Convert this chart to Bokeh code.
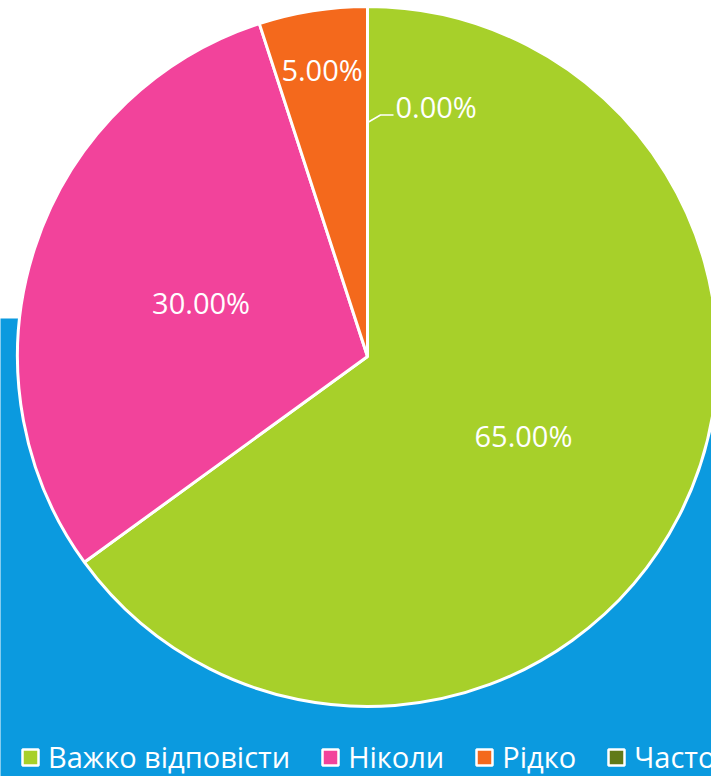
import numpy as np
from bokeh.plotting import figure
from bokeh.models import Range1d, Legend, LegendItem, ColumnDataSource
from bokeh.core.properties import value
from bokeh.embed import file_html
from bokeh.resources import INLINE

categories = ["Важко відповісти", "Ніколи", "Рідко", "Часто"]
shares = [65.0, 30.0, 5.0, 0.0]
colors = ["#A7D02A", "#F2439B", "#F4691C", "#617A18"]

W, H = 711, 776
p = figure(width=W, height=H, output_backend="svg", toolbar_location=None,
           x_axis_location=None, y_axis_location=None, min_border=0,
           x_range=Range1d(0, W), y_range=Range1d(0, H))
p.outline_line_color = None
p.grid.visible = False
p.background_fill_color = "white"
p.border_fill_color = "white"

# blue backdrop
p.quad(left=-20, right=W + 20, bottom=-20, top=H - 318, color="#0B9ADF", line_color=None)

cx, cy, R = 367, H - 356, 350
frac = np.array(shares) / sum(shares)
cum_end = np.cumsum(frac)
cum_start = cum_end - frac
start = np.pi / 2 - cum_end * 2 * np.pi
end = np.pi / 2 - cum_start * 2 * np.pi
nz = frac > 0
src = ColumnDataSource(dict(cat=[c for c, k in zip(categories, nz) if k],
                            start=start[nz], end=end[nz],
                            color=[c for c, k in zip(colors, nz) if k]))
p.wedge(x=cx, y=cy, radius=R, start_angle="start", end_angle="end",
        fill_color="color", line_color="white", line_width=3, source=src)

# legend proxies (not drawn in the plot area)
nan = [np.nan] * len(categories)
lsrc = ColumnDataSource(dict(l=nan, r=nan, b=nan, t=nan, color=colors))
lr = p.quad(left="l", right="r", bottom="b", top="t", fill_color="color",
            line_color="white", line_width=2.5, source=lsrc)

# labels
mid = (cum_start + cum_end) / 2 * 2 * np.pi
rf = [0.5, 0.5, 0.83]
lx = [cx + R * rf[i] * np.sin(mid[i]) for i in range(3)]
ly = [cy + R * rf[i] * np.cos(mid[i]) for i in range(3)]
labels = [f"{v:.2f}%" for v in shares]
p.text(x=lx, y=ly, text=labels[:3], text_color="white", text_font=value("Open Sans"),
       text_font_size="29px", text_align="center", text_baseline="middle")
# zero slice label with leader
zx0, zy0 = cx + R * 0.67 * np.sin(mid[3]), cy + R * 0.67 * np.cos(mid[3])
p.line(x=[zx0 + 1, zx0 + 13, zx0 + 26], y=[zy0, zy0 + 7, zy0 + 7], line_color="white", line_width=1.5)
p.text(x=[zx0 + 28], y=[zy0 + 16], text=[labels[3]], text_color="white", text_font=value("Open Sans"),
       text_font_size="29px", text_align="left", text_baseline="middle")

items = [LegendItem(label=c, renderers=[lr], index=i) for i, c in enumerate(categories)]
legend = Legend(items=items, orientation="horizontal", location=(20, 0),
                label_text_font="Open Sans", label_text_font_size="29px",
                label_text_color="white", glyph_width=20, glyph_height=20,
                label_standoff=8, spacing=30, padding=0, margin=0,
                background_fill_alpha=0, border_line_alpha=0)
p.add_layout(legend, "center")

open("out.html", "w").write(file_html(p, INLINE))
